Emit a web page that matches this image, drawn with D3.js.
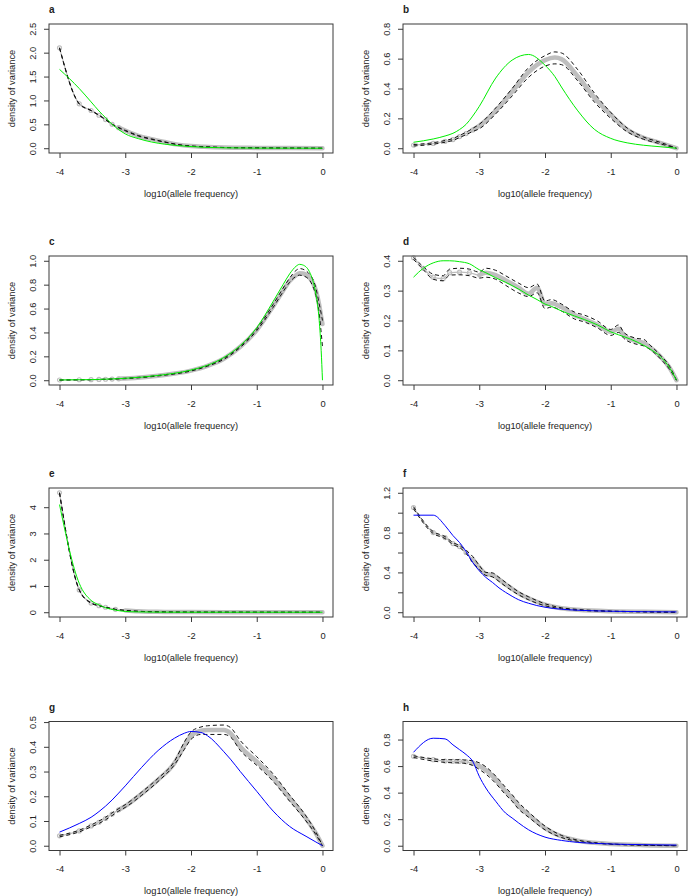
<!DOCTYPE html>
<html>
<head>
<meta charset="utf-8">
<script src="https://cdn.jsdelivr.net/npm/d3@7"></script>
<style>
  html, body { margin: 0; padding: 0; background: #fff; }
  svg { display: block; }
  text { font-family: "Liberation Sans", Arial, Helvetica, sans-serif; fill: #222; }
</style>
</head>
<body>
<svg id="chart" width="691" height="896"></svg>
<script>
// ---------------- DATA ----------------
const panelLabels = ["a", "b", "c", "d", "e", "f", "g", "h"];
const xLabel = "log10(allele frequency)";
const yLabel = "density of variance";
const xTicks = [-4, -3, -2, -1, 0];
const xTickLabels = ["-4", "-3", "-2", "-1", "0"];
const xLim = [-4, 0];

// panel a
const aYLim = [0, 2.5];
const aYTicks = [0, 0.5, 1, 1.5, 2, 2.5];
const aYTickLabels = ["0.0", "0.5", "1.0", "1.5", "2.0", "2.5"];
const aX     = [-4, -3.7, -3.52, -3.4, -3.3, -3.2, -3.1, -3.0, -2.8, -2.6, -2.4, -2.2, -2.0, -1.8, -1.5, -1.0, -0.5, 0];
const aMean  = [2.1, 0.93, 0.79, 0.69, 0.6, 0.5, 0.43, 0.37, 0.26, 0.19, 0.13, 0.075, 0.045, 0.03, 0.015, 0.007, 0.003, 0];
const aUpper = [2.105, 0.935, 0.795, 0.695, 0.605, 0.505, 0.435, 0.375, 0.265, 0.195, 0.133, 0.078, 0.047, 0.031, 0.016, 0.007, 0.003, 0];
const aLower = [2.095, 0.925, 0.785, 0.685, 0.595, 0.495, 0.425, 0.365, 0.255, 0.185, 0.127, 0.072, 0.043, 0.029, 0.014, 0.007, 0.003, 0];
const aModel = [1.65, 1.25, 0.97, 0.78, 0.64, 0.5, 0.39, 0.30, 0.2, 0.13, 0.085, 0.055, 0.035, 0.02, 0.008, 0.002, 0.001, 0];

// panel b
const bYLim = [0, 0.8];
const bYTicks = [0, 0.2, 0.4, 0.6, 0.8];
const bYTickLabels = ["0.0", "0.2", "0.4", "0.6", "0.8"];
const bX     = [-4, -3.7, -3.52, -3.4, -3.3, -3.2, -3.1, -3, -2.75, -2.5, -2.25, -2, -1.85, -1.75, -1.5, -1.25, -1, -0.75, -0.5, -0.25, 0];
const bMean  = [0.02, 0.032, 0.046, 0.058, 0.078, 0.098, 0.122, 0.15, 0.25, 0.38, 0.51, 0.59, 0.607, 0.597, 0.48, 0.34, 0.225, 0.125, 0.07, 0.036, 0];
const bUpper = [0.025, 0.037, 0.052, 0.065, 0.086, 0.107, 0.133, 0.16, 0.27, 0.40, 0.54, 0.62, 0.645, 0.638, 0.525, 0.37, 0.24, 0.135, 0.075, 0.04, 0];
const bLower = [0.015, 0.027, 0.04, 0.052, 0.071, 0.091, 0.112, 0.13, 0.23, 0.35, 0.475, 0.55, 0.565, 0.56, 0.45, 0.31, 0.2, 0.11, 0.06, 0.03, 0];
const bModel = [0.04, 0.062, 0.082, 0.1, 0.125, 0.16, 0.215, 0.28, 0.47, 0.59, 0.628, 0.556, 0.48, 0.41, 0.25, 0.127, 0.066, 0.036, 0.02, 0.01, 0];

// panel c
const cYLim = [0, 1];
const cYTicks = [0, 0.2, 0.4, 0.6, 0.8, 1.0];
const cYTickLabels = ["0.0", "0.2", "0.4", "0.6", "0.8", "1.0"];
const cX     = [-4, -3.7, -3.52, -3.4, -3.3, -3.2, -3.1, -3, -2.5, -2, -1.75, -1.5, -1.25, -1, -0.75, -0.6, -0.5, -0.4, -0.35, -0.3, -0.2, -0.15, -0.1, -0.05, -0.02, 0];
const cMean  = [0.002, 0.004, 0.005, 0.007, 0.008, 0.01, 0.012, 0.015, 0.038, 0.08, 0.12, 0.18, 0.28, 0.42, 0.62, 0.75, 0.83, 0.88, 0.895, 0.893, 0.86, 0.82, 0.75, 0.63, 0.53, 0.47];
const cUpper = [0.002, 0.004, 0.005, 0.007, 0.009, 0.011, 0.013, 0.017, 0.04, 0.083, 0.123, 0.185, 0.285, 0.43, 0.635, 0.77, 0.855, 0.92, 0.935, 0.93, 0.89, 0.85, 0.77, 0.64, 0.56, 0.5];
const cLower = [0.001, 0.003, 0.004, 0.006, 0.007, 0.009, 0.011, 0.013, 0.036, 0.077, 0.117, 0.175, 0.275, 0.415, 0.61, 0.74, 0.82, 0.87, 0.88, 0.875, 0.84, 0.79, 0.71, 0.56, 0.4, 0.28];
const cModel = [0.002, 0.004, 0.005, 0.007, 0.009, 0.011, 0.013, 0.016, 0.04, 0.085, 0.125, 0.19, 0.29, 0.44, 0.66, 0.8, 0.89, 0.955, 0.97, 0.965, 0.91, 0.84, 0.72, 0.5, 0.25, 0];

// panel d
const dYLim = [0, 0.4];
const dYTicks = [0, 0.1, 0.2, 0.3, 0.4];
const dYTickLabels = ["0.0", "0.1", "0.2", "0.3", "0.4"];
const dX     = [-4, -3.85, -3.7, -3.55, -3.45, -3.3, -3.15, -3.0, -2.9, -2.75, -2.6, -2.4, -2.25, -2.12, -2.0, -1.9, -1.75, -1.55, -1.4, -1.2, -1.0, -0.88, -0.8, -0.6, -0.5, -0.4, -0.25, -0.1, 0];
const dMean  = [0.41, 0.375, 0.345, 0.34, 0.36, 0.362, 0.36, 0.352, 0.36, 0.352, 0.335, 0.31, 0.29, 0.31, 0.255, 0.258, 0.245, 0.218, 0.205, 0.185, 0.162, 0.172, 0.15, 0.13, 0.125, 0.11, 0.08, 0.04, 0];
const dUpper = [0.412, 0.38, 0.355, 0.35, 0.372, 0.375, 0.372, 0.362, 0.375, 0.368, 0.35, 0.325, 0.31, 0.322, 0.265, 0.27, 0.255, 0.228, 0.218, 0.198, 0.17, 0.185, 0.16, 0.14, 0.137, 0.117, 0.085, 0.045, 0];
const dLower = [0.405, 0.37, 0.338, 0.333, 0.352, 0.353, 0.35, 0.342, 0.345, 0.338, 0.318, 0.292, 0.28, 0.293, 0.24, 0.245, 0.232, 0.205, 0.195, 0.175, 0.15, 0.16, 0.14, 0.12, 0.115, 0.103, 0.073, 0.035, 0];
const dModel = [0.345, 0.375, 0.393, 0.4, 0.4, 0.397, 0.39, 0.37, 0.36, 0.343, 0.328, 0.305, 0.285, 0.27, 0.255, 0.247, 0.232, 0.215, 0.203, 0.185, 0.162, 0.152, 0.146, 0.128, 0.117, 0.104, 0.08, 0.04, 0];

// panel e
const eYLim = [0, 4.55];
const eYTicks = [0, 1, 2, 3, 4];
const eYTickLabels = ["0", "1", "2", "3", "4"];
const eX     = [-4, -3.7, -3.52, -3.4, -3.3, -3.15, -3.0, -2.8, -2.6, -2.4, -2.0, -1.0, 0];
const eMean  = [4.55, 0.85, 0.35, 0.25, 0.19, 0.11, 0.07, 0.035, 0.02, 0.01, 0.004, 0.001, 0];
const eUpper = [4.56, 0.86, 0.36, 0.255, 0.195, 0.115, 0.072, 0.036, 0.021, 0.011, 0.004, 0.001, 0];
const eLower = [4.54, 0.84, 0.34, 0.245, 0.185, 0.105, 0.068, 0.034, 0.019, 0.009, 0.004, 0.001, 0];
const eModel = [4.1, 1.1, 0.45, 0.28, 0.17, 0.08, 0.03, 0.012, 0.005, 0.002, 0, 0, 0];

// panel f
const fYLim = [0, 1.2];
const fYTicks = [0, 0.2, 0.4, 0.6, 0.8, 1.0, 1.2];
const fYTickLabels = ["0.0", "", "0.4", "", "0.8", "", "1.2"];
const fX     = [-4, -3.7, -3.52, -3.4, -3.3, -3.2, -3.1, -3.0, -2.9, -2.8, -2.7, -2.6, -2.5, -2.4, -2.25, -2.0, -1.75, -1.5, -1.0, -0.5, 0];
const fMean  = [1.05, 0.8, 0.75, 0.69, 0.66, 0.6, 0.53, 0.45, 0.385, 0.375, 0.33, 0.28, 0.235, 0.19, 0.14, 0.075, 0.04, 0.025, 0.01, 0.004, 0];
const fUpper = [1.06, 0.81, 0.76, 0.70, 0.67, 0.62, 0.56, 0.47, 0.40, 0.395, 0.35, 0.30, 0.25, 0.205, 0.155, 0.085, 0.045, 0.028, 0.012, 0.005, 0];
const fLower = [1.04, 0.79, 0.74, 0.68, 0.65, 0.59, 0.5, 0.43, 0.37, 0.355, 0.31, 0.26, 0.215, 0.175, 0.125, 0.065, 0.035, 0.02, 0.008, 0.003, 0];
const fModel = [0.975, 0.975, 0.87, 0.77, 0.70, 0.61, 0.5, 0.417, 0.35, 0.3, 0.245, 0.2, 0.16, 0.125, 0.09, 0.05, 0.03, 0.02, 0.01, 0.005, 0.003];

// panel g
const gYLim = [0, 0.483];
const gYTicks = [0, 0.1, 0.2, 0.3, 0.4, 0.5];
const gYTickLabels = ["0.0", "0.1", "0.2", "0.3", "0.4", "0.5"];
const gX     = [-4, -3.7, -3.52, -3.4, -3.3, -3.2, -3.1, -3, -2.75, -2.5, -2.25, -2.1, -2, -1.85, -1.75, -1.5, -1.4, -1.25, -1, -0.75, -0.5, -0.25, -0.1, 0];
const gMean  = [0.04, 0.06, 0.08, 0.095, 0.11, 0.128, 0.145, 0.16, 0.21, 0.267, 0.335, 0.405, 0.445, 0.465, 0.468, 0.468, 0.455, 0.40, 0.34, 0.274, 0.193, 0.11, 0.05, 0];
const gUpper = [0.042, 0.063, 0.084, 0.1, 0.115, 0.133, 0.15, 0.166, 0.217, 0.273, 0.342, 0.42, 0.46, 0.48, 0.485, 0.488, 0.478, 0.425, 0.36, 0.29, 0.205, 0.12, 0.055, 0];
const gLower = [0.036, 0.056, 0.076, 0.09, 0.105, 0.122, 0.14, 0.155, 0.204, 0.26, 0.328, 0.39, 0.43, 0.45, 0.45, 0.45, 0.44, 0.385, 0.325, 0.26, 0.18, 0.1, 0.045, 0];
const gModel = [0.055, 0.09, 0.115, 0.138, 0.16, 0.185, 0.213, 0.242, 0.317, 0.385, 0.435, 0.455, 0.462, 0.458, 0.445, 0.38, 0.35, 0.30, 0.22, 0.14, 0.078, 0.038, 0.015, 0];

// panel h
const hYLim = [0, 0.9];
const hYTicks = [0, 0.2, 0.4, 0.6, 0.8];
const hYTickLabels = ["0.0", "0.2", "0.4", "0.6", "0.8"];
const hX     = [-4, -3.7, -3.52, -3.4, -3.3, -3.2, -3.1, -3.0, -2.9, -2.75, -2.6, -2.5, -2.4, -2.25, -2.0, -1.75, -1.5, -1.25, -1.0, -0.5, 0];
const hMean  = [0.673, 0.648, 0.638, 0.636, 0.636, 0.632, 0.622, 0.6, 0.57, 0.5, 0.41, 0.36, 0.3, 0.234, 0.133, 0.07, 0.038, 0.022, 0.013, 0.004, 0];
const hUpper = [0.678, 0.655, 0.648, 0.648, 0.648, 0.645, 0.64, 0.625, 0.595, 0.525, 0.44, 0.385, 0.325, 0.255, 0.148, 0.078, 0.042, 0.024, 0.014, 0.005, 0];
const hLower = [0.665, 0.638, 0.628, 0.625, 0.624, 0.62, 0.605, 0.575, 0.54, 0.47, 0.385, 0.335, 0.275, 0.215, 0.12, 0.062, 0.033, 0.019, 0.011, 0.003, 0];
const hModel = [0.704, 0.81, 0.805, 0.76, 0.724, 0.687, 0.636, 0.523, 0.435, 0.335, 0.246, 0.209, 0.171, 0.12, 0.065, 0.04, 0.025, 0.018, 0.013, 0.008, 0.005];

// ---------------- LAYOUT / STYLE ----------------
const colLeft = [49, 403];
const boxW = 284;
const rowTop = [24, 256, 488, 721.5];
const boxH = 129;
const GREEN = "#00ee00";
const BLUE = "#0000ff";
const GRAY = "#bebebe";
const FS = 9.3;
const denseFrom = -3.1;   // grid becomes dense (points merge into a band) from here on

const panels = [
  { label: panelLabels[0], x: aX, mean: aMean, up: aUpper, lo: aLower, model: aModel, color: GREEN, ylim: aYLim, yt: aYTicks, ytl: aYTickLabels },
  { label: panelLabels[1], x: bX, mean: bMean, up: bUpper, lo: bLower, model: bModel, color: GREEN, ylim: bYLim, yt: bYTicks, ytl: bYTickLabels },
  { label: panelLabels[2], x: cX, mean: cMean, up: cUpper, lo: cLower, model: cModel, color: GREEN, ylim: cYLim, yt: cYTicks, ytl: cYTickLabels },
  { label: panelLabels[3], x: dX, mean: dMean, up: dUpper, lo: dLower, model: dModel, color: GREEN, ylim: dYLim, yt: dYTicks, ytl: dYTickLabels },
  { label: panelLabels[4], x: eX, mean: eMean, up: eUpper, lo: eLower, model: eModel, color: GREEN, ylim: eYLim, yt: eYTicks, ytl: eYTickLabels },
  { label: panelLabels[5], x: fX, mean: fMean, up: fUpper, lo: fLower, model: fModel, color: BLUE,  ylim: fYLim, yt: fYTicks, ytl: fYTickLabels },
  { label: panelLabels[6], x: gX, mean: gMean, up: gUpper, lo: gLower, model: gModel, color: BLUE,  ylim: gYLim, yt: gYTicks, ytl: gYTickLabels },
  { label: panelLabels[7], x: hX, mean: hMean, up: hUpper, lo: hLower, model: hModel, color: BLUE,  ylim: hYLim, yt: hYTicks, ytl: hYTickLabels }
];

const svg = d3.select("#chart");

function expand(lim) { const r = lim[1] - lim[0]; return [lim[0] - 0.04 * r, lim[1] + 0.04 * r]; }

panels.forEach((p, i) => {
  const left = colLeft[i % 2];
  const top = rowTop[Math.floor(i / 2)];
  const g = svg.append("g").attr("transform", `translate(${left},${top})`);

  const x = d3.scaleLinear().domain(expand(xLim)).range([0, boxW]);
  const y = d3.scaleLinear().domain(expand(p.ylim)).range([boxH, 0]);

  const lineIdx = (arr, idx) => d3.line()
    .x(k => x(p.x[k]))
    .y(k => y(arr[k]))
    .curve(d3.curveMonotoneX)(idx);
  const all = p.x.map((_, k) => k);
  const dense = all.filter(k => p.x[k] >= denseFrom);
  const sparse = all.filter(k => p.x[k] < denseFrom + 0.05);

  // mean: thin line + open points where grid is sparse, thick band where dense
  g.append("path").attr("d", lineIdx(p.mean, all)).attr("fill", "none")
    .attr("stroke", GRAY).attr("stroke-width", 1.2);
  g.append("path").attr("d", lineIdx(p.mean, dense)).attr("fill", "none")
    .attr("stroke", GRAY).attr("stroke-width", 4.5).attr("stroke-linejoin", "round").attr("stroke-linecap", "round");
  g.selectAll("circle.pt").data(sparse).enter().append("circle")
    .attr("cx", k => x(p.x[k])).attr("cy", k => y(p.mean[k])).attr("r", 2)
    .attr("fill", "none").attr("stroke", GRAY).attr("stroke-width", 1.2);

  // quantile dashed lines
  [p.up, p.lo].forEach(arr => {
    g.append("path").attr("d", lineIdx(arr, all)).attr("fill", "none")
      .attr("stroke", "#111").attr("stroke-width", 1).attr("stroke-dasharray", "4,3");
  });
  // model line
  g.append("path").attr("d", lineIdx(p.model, all)).attr("fill", "none")
    .attr("stroke", p.color).attr("stroke-width", 1);

  // box
  g.append("rect").attr("x", 0).attr("y", 0).attr("width", boxW).attr("height", boxH)
    .attr("fill", "none").attr("stroke", "#3a3a3a").attr("stroke-width", 1);

  // x axis
  const xa = g.append("g").attr("transform", `translate(0,${boxH})`)
    .call(d3.axisBottom(x).tickValues(xTicks).tickSize(5).tickFormat((d, k) => xTickLabels[k]));
  xa.select(".domain").remove();
  xa.selectAll(".tick line").attr("stroke", "#3a3a3a");
  xa.selectAll(".tick text").attr("y", 21.5).attr("dy", 0)
    .style("font-size", FS + "px").style("font-family", "Liberation Sans, Arial, sans-serif").attr("fill", "#222");

  // y axis
  const ya = g.append("g")
    .call(d3.axisLeft(y).tickValues(p.yt).tickSize(5).tickFormat((d, k) => p.ytl[k]));
  ya.select(".domain").remove();
  ya.selectAll(".tick line").attr("stroke", "#3a3a3a");
  ya.selectAll(".tick text").attr("x", 0).attr("dy", 0)
    .attr("transform", "translate(-13,0) rotate(-90)")
    .attr("text-anchor", "middle")
    .style("font-size", FS + "px").style("font-family", "Liberation Sans, Arial, sans-serif").attr("fill", "#222");

  // axis titles
  g.append("text").attr("x", boxW / 2).attr("y", boxH + 43.5).attr("text-anchor", "middle")
    .style("font-size", FS + "px").text(xLabel);
  g.append("text").attr("transform", `translate(-34,${boxH / 2}) rotate(-90)`).attr("text-anchor", "middle")
    .style("font-size", FS + "px").text(yLabel);

  // panel label
  g.append("text").attr("x", 0).attr("y", -11).style("font-size", "10px").style("font-weight", "bold").text(p.label);
});
</script>
</body>
</html>
